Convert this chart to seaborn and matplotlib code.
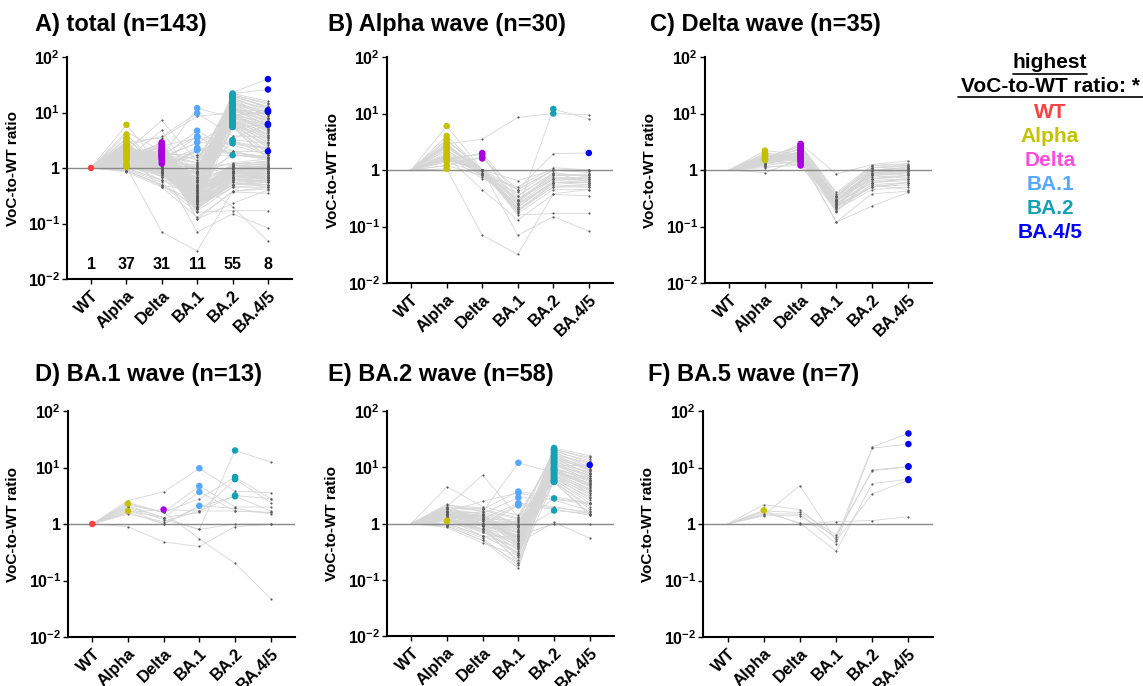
import numpy as np
import pandas as pd
import matplotlib
matplotlib.use('Agg')
import matplotlib.pyplot as plt
import seaborn as sns
from matplotlib.lines import Line2D

VARIANTS = ['WT', 'Alpha', 'Delta', 'BA.1', 'BA.2', 'BA.4/5']

# one row per person: Alpha, Delta, BA.1, BA.2, BA.4/5 (VoC-to-WT ratio, WT = 1)
alpha_wave = [
    [6.0, 1.0, 0.35, 0.9, 0.75], [4.0, 1.0, 0.45, 1.0, 0.9], [3.3, 1.0, 0.3, 0.7, 0.65],
    [3.0, 0.8, 0.25, 0.6, 0.6], [2.8, 1.0, 0.22, 0.65, 0.7], [2.6, 0.9, 0.2, 0.55, 0.5],
    [2.5, 1.0, 0.18, 0.6, 0.55], [2.3, 0.75, 0.3, 0.8, 0.8], [2.2, 1.0, 0.17, 0.45, 0.45],
    [1.9, 0.8, 0.25, 0.7, 0.75], [1.8, 1.0, 0.2, 0.5, 0.5], [1.8, 0.7, 0.4, 1.0, 0.95],
    [1.7, 0.45, 0.13, 0.37, 0.35], [1.7, 1.0, 0.28, 0.75, 0.7], [1.6, 0.9, 0.22, 0.6, 0.65],
    [1.6, 1.0, 0.16, 0.17, 0.17], [1.5, 1.0, 0.07, 0.15, 0.083], [1.05, 0.07, 0.032, 0.38, 0.45],
    [1.2, 0.8, 0.5, 1.1, 1.0], [2.0, 1.0, 0.3, 0.8, 0.85], [2.7, 1.0, 0.26, 0.9, 0.6],
    [1.4, 0.85, 0.19, 0.5, 0.55], [3.5, 1.0, 0.65, 1.0, 1.0],
    [1.5, 2.0, 0.35, 0.85, 0.8], [1.6, 1.9, 0.24, 0.6, 0.6], [1.2, 1.7, 0.3, 0.7, 0.7],
    [1.4, 1.6, 0.45, 1.0, 1.0],
    [2.9, 3.5, 8.5, 10.0, 9.5], [1.8, 1.0, 0.2, 12.0, 8.0],
    [1.7, 0.9, 0.45, 1.95, 2.0],
]

delta_wave = [
    [2.2, 1.9, 0.3, 0.8, 0.9], [2.0, 1.7, 0.35, 1.0, 1.1], [1.9, 1.6, 0.25, 0.6, 0.7],
    [1.8, 1.5, 0.28, 0.9, 1.0], [1.7, 1.4, 0.22, 0.5, 0.6], [1.6, 1.5, 0.3, 0.7, 0.8],
    [1.55, 1.2, 0.19, 0.55, 0.45], [1.5, 1.3, 0.33, 1.1, 1.2], [1.8, 1.6, 0.12, 0.38, 0.42],
    [1.5, 2.9, 0.85, 1.25, 1.45], [1.6, 2.8, 0.4, 1.2, 1.3], [1.4, 2.7, 0.38, 1.1, 1.2],
    [1.7, 2.6, 0.35, 1.0, 1.1], [1.3, 2.5, 0.33, 0.9, 1.0], [1.5, 2.4, 0.31, 0.85, 0.95],
    [1.6, 2.3, 0.3, 0.8, 0.9], [1.2, 2.2, 0.29, 0.75, 0.8], [1.45, 2.15, 0.28, 0.7, 0.75],
    [1.55, 2.1, 0.27, 1.0, 1.05], [1.35, 2.05, 0.26, 0.65, 0.7], [1.5, 2.0, 0.25, 0.6, 0.65],
    [1.65, 1.95, 0.24, 0.9, 0.95], [1.4, 1.9, 0.23, 0.55, 0.6], [1.25, 1.85, 0.22, 0.5, 0.55],
    [1.6, 1.8, 0.21, 1.1, 1.15], [1.5, 1.75, 0.2, 0.45, 0.5], [1.3, 1.7, 0.19, 0.7, 0.8],
    [1.45, 1.65, 0.18, 0.8, 0.85], [1.55, 1.6, 0.35, 1.2, 1.25], [0.9, 1.55, 0.12, 0.23, 0.4],
    [1.4, 1.5, 0.3, 0.95, 1.0], [1.2, 1.45, 0.26, 0.6, 0.7], [1.3, 1.4, 0.22, 1.0, 1.1],
    [1.1, 1.3, 0.28, 0.85, 0.9], [1.15, 1.2, 0.24, 0.5, 0.6],
]

ba1_wave = [
    [0.9, 0.48, 0.4, 0.9, 0.98],
    [2.3, 1.6, 0.55, 0.2, 0.048], [1.7, 1.3, 0.8, 1.0, 1.0],
    [1.6, 1.8, 1.7, 1.7, 1.6],
    [2.6, 3.7, 9.7, 3.8, 3.6], [2.2, 1.6, 4.7, 2.0, 2.0], [2.0, 1.3, 3.7, 1.7, 1.6],
    [1.8, 1.0, 2.1, 1.9, 1.5],
    [1.9, 1.2, 0.8, 20.0, 12.5], [2.4, 1.6, 2.8, 6.8, 2.8], [2.1, 1.3, 1.6, 6.2, 2.4],
    [1.5, 1.1, 1.7, 3.2, 2.8], [1.6, 1.0, 2.0, 3.1, 1.7],
]

ba2_wave = [
    [1.1, 0.8, 0.45, 1.05, 0.55], [1.12, 0.9, 0.6, 1.0, 1.0],
    [1.5, 1.6, 12.0, 8.0, 6.0], [2.0, 1.8, 3.7, 3.0, 2.3], [1.6, 2.5, 3.5, 2.6, 1.7],
    [1.8, 1.5, 2.9, 2.7, 2.2], [1.4, 1.2, 2.3, 2.0, 1.5], [1.3, 1.0, 2.2, 1.9, 1.6],
    [1.2, 0.9, 2.1, 1.8, 1.4],
    [1.5, 1.2, 0.5, 10.5, 11.0],
    [1.6, 1.4, 0.9, 2.8, 2.3], [1.2, 1.0, 0.7, 1.7, 1.5],
    [1.8, 1.2, 0.4, 22, 16], [2.1, 1.9, 0.9, 21, 14], [1.5, 1.0, 0.25, 20.5, 15],
    [1.3, 0.8, 0.6, 20, 12], [1.9, 1.7, 1.2, 19, 13], [1.0, 0.6, 0.3, 18.5, 10],
    [1.6, 1.3, 0.5, 18, 11], [1.2, 0.9, 0.2, 17, 9], [4.5, 2.0, 1.4, 16.5, 12],
    [2.0, 7.2, 1.3, 16, 8.5], [1.4, 1.1, 0.7, 15.5, 10], [1.7, 1.5, 0.45, 15, 9],
    [1.1, 0.7, 0.35, 14.5, 7.5], [0.9, 0.5, 0.16, 14, 9.5], [1.5, 1.0, 0.8, 13.5, 8],
    [1.3, 1.2, 0.55, 13, 7], [2.2, 1.6, 1.0, 12.5, 8], [1.0, 0.8, 0.28, 12, 6.5],
    [1.6, 1.4, 0.65, 11.5, 7], [1.2, 0.6, 0.38, 11, 6], [1.4, 1.0, 0.85, 10.5, 7.5],
    [1.8, 1.3, 0.42, 10, 5.5], [0.95, 0.55, 0.18, 9.8, 6], [1.5, 1.1, 0.75, 9.5, 5],
    [1.1, 0.9, 0.33, 9.2, 6.5], [1.7, 1.0, 1.1, 9, 5.2], [1.3, 0.7, 0.48, 8.7, 4.5],
    [1.0, 1.2, 0.6, 8.5, 5], [1.6, 1.5, 0.95, 8.2, 4], [1.2, 0.8, 0.22, 8, 4.8],
    [0.85, 0.45, 0.27, 7.7, 3.5], [1.4, 1.3, 0.52, 7.5, 4.2], [1.9, 1.8, 1.25, 7.2, 3.8],
    [1.1, 1.0, 0.37, 7, 3.2], [1.5, 0.9, 0.7, 6.8, 4], [1.3, 1.4, 0.44, 6.6, 2.8],
    [1.0, 0.6, 0.58, 6.4, 3.5], [1.7, 1.1, 1.05, 6.2, 3], [1.2, 0.75, 0.3, 6, 2.3],
    [1.4, 1.0, 0.88, 5.8, 2.6], [0.9, 0.5, 0.2, 5.7, 1.8], [1.6, 1.2, 1.15, 5.6, 2.0],
    [1.1, 0.8, 0.4, 5.5, 1.5], [1.3, 1.0, 1.0, 5.5, 1.4], [1.5, 1.3, 0.78, 12, 5.8],
    [1.2, 0.95, 0.62, 9, 4.6],
]

ba5_wave = [
    [2.2, 1.8, 0.55, 23.0, 40.0], [1.5, 1.5, 0.45, 22.0, 26.0], [1.4, 1.4, 0.6, 9.0, 10.5],
    [1.7, 1.6, 0.65, 8.7, 10.3], [1.6, 1.05, 0.33, 5.2, 6.2], [1.45, 4.8, 0.5, 3.4, 6.0],
    [1.75, 1.0, 1.1, 1.15, 1.35],
]

POINT_COLORS = {'WT': '#ff4040', 'Alpha': '#c4c200', 'Delta': '#aa00dd',
                'BA.1': '#55a8ff', 'BA.2': '#15a0b4', 'BA.4/5': '#0000ff'}
LEGEND_COLORS = {'WT': '#ff4040', 'Alpha': '#c4c200', 'Delta': '#ff4ddd',
                 'BA.1': '#55a8ff', 'BA.2': '#15a0b4', 'BA.4/5': '#0000ff'}

W, H = 1143, 686


def to_long(rows, offset=0):
    recs = []
    for i, r in enumerate(rows):
        vals = [1.0] + list(r)
        top = int(np.argmax(vals))
        for j, v in enumerate(vals):
            recs.append({'subject': offset + i, 'pos': j, 'variant': VARIANTS[j],
                         'ratio': v, 'highest': j == top})
    return pd.DataFrame(recs)


sns.set_style('ticks')
plt.rcParams['font.family'] = ['Liberation Sans', 'DejaVu Sans']
plt.rcParams['font.weight'] = 'bold'
plt.rcParams['text.color'] = 'black'
plt.rcParams['axes.labelcolor'] = 'black'
plt.rcParams['xtick.color'] = 'black'
plt.rcParams['ytick.color'] = 'black'
plt.rcParams['mathtext.fontset'] = 'custom'
plt.rcParams['mathtext.rm'] = 'Liberation Sans:bold'
plt.rcParams['mathtext.it'] = 'Liberation Sans:bold'
plt.rcParams['mathtext.bf'] = 'Liberation Sans:bold'

fig = plt.figure(figsize=(W / 100, H / 100), dpi=100)


def px_axes(left, top, right, bottom):
    return fig.add_axes([left / W, 1 - bottom / H, (right - left) / W, (bottom - top) / H])


def draw_panel(ax, df, title, tx, ty, counts=False):
    sns.lineplot(data=df, x='pos', y='ratio', units='subject', estimator=None,
                 color='#d6d6d6', lw=0.6, ax=ax, legend=False, zorder=1)
    ax.axhline(1, color='#8a8a8a', lw=1.0, zorder=2)
    grey = df[(~df['highest']) & (df['pos'] > 0)]
    sns.scatterplot(data=grey, x='pos', y='ratio', color='#5a5a5a', s=2.5,
                    linewidth=0, ax=ax, zorder=3)
    top = df[df['highest']]
    sns.scatterplot(data=top, x='pos', y='ratio', hue='variant', palette=POINT_COLORS,
                    s=22, linewidth=0, ax=ax, legend=False, zorder=4)
    ax.set_yscale('log')
    ax.set_ylim(0.01, 100)
    ax.set_xlim(-0.68, 5.68)
    ax.set_yticks([0.01, 0.1, 1, 10, 100])
    ax.set_yticklabels([r'$10^{-2}$', r'$10^{-1}$', '1', r'$10^{1}$', r'$10^{2}$'])
    ax.yaxis.set_minor_locator(matplotlib.ticker.NullLocator())
    ax.set_xticks(range(len(VARIANTS)))
    ax.set_xticklabels(VARIANTS, rotation=45, ha='right', rotation_mode='anchor')
    ax.tick_params(axis='both', direction='out', length=3.5, width=1.0, colors='black')
    ax.tick_params(axis='y', labelsize=11.5, pad=1.5)
    ax.tick_params(axis='x', labelsize=12, pad=3)
    for lab in ax.get_xticklabels() + ax.get_yticklabels():
        lab.set_fontweight('bold')
        lab.set_color('black')
    ax.set_xlabel('')
    ax.set_ylabel('VoC-to-WT ratio', fontsize=11, fontweight='bold', color='black')
    ax.yaxis.set_label_coords(-0.21, 0.5)
    sns.despine(ax=ax)
    for s in ['left', 'bottom']:
        ax.spines[s].set_linewidth(1.5)
        ax.spines[s].set_color('black')
    if counts:
        n = top.groupby('pos').size().reindex(range(len(VARIANTS)), fill_value=0)
        for p, c in n.items():
            ax.text(p, 0.018, str(c), ha='center', va='center', fontsize=11.5,
                    fontweight='bold', color='black')
    fig.text(tx / W, 1 - ty / H, title, ha='left', va='center', fontsize=17,
             fontweight='bold', color='black')


waves = [alpha_wave, delta_wave, ba1_wave, ba2_wave, ba5_wave]
frames, off = [], 0
for rows in waves:
    frames.append(to_long(rows, off))
    off += len(rows)
total = pd.concat(frames, ignore_index=True)

panels = [
    (total, 'A) total (n=%d)' % off, (67, 57, 292, 279), (35, 24), True),
    (frames[0], 'B) Alpha wave (n=%d)' % len(alpha_wave), (387, 57, 613, 283), (328, 24), False),
    (frames[1], 'C) Delta wave (n=%d)' % len(delta_wave), (705, 57, 932, 283), (650, 24), False),
    (frames[2], 'D) BA.1 wave (n=%d)' % len(ba1_wave), (68, 411, 295, 637), (35, 375), False),
    (frames[3], 'E) BA.2 wave (n=%d)' % len(ba2_wave), (387, 411, 614, 636), (328, 375), False),
    (frames[4], 'F) BA.5 wave (n=%d)' % len(ba5_wave), (703, 411, 933, 637), (648, 375), False),
]
for df, title, box, tpos, cnt in panels:
    ax = px_axes(*box)
    draw_panel(ax, df, title, tpos[0], tpos[1], counts=cnt)

# legend of the highest-ratio colour code
lx = 1050
fig.text(lx / W, 1 - 63 / H, 'highest', ha='center', va='center', fontsize=15, fontweight='bold')
fig.add_artist(Line2D([1013 / W, 1087 / W], [1 - 74 / H] * 2, color='black', lw=1.2))
fig.text(lx / W, 1 - 87 / H, 'VoC-to-WT ratio: *', ha='center', va='center', fontsize=15, fontweight='bold')
fig.add_artist(Line2D([958 / W, 1143 / W], [1 - 97 / H] * 2, color='black', lw=1.2))
for i, v in enumerate(VARIANTS):
    fig.text(lx / W, 1 - (113 + i * 23.8) / H, v, ha='center', va='center', fontsize=15,
             fontweight='bold', color=LEGEND_COLORS[v])

fig.savefig('out.png', dpi=100)
